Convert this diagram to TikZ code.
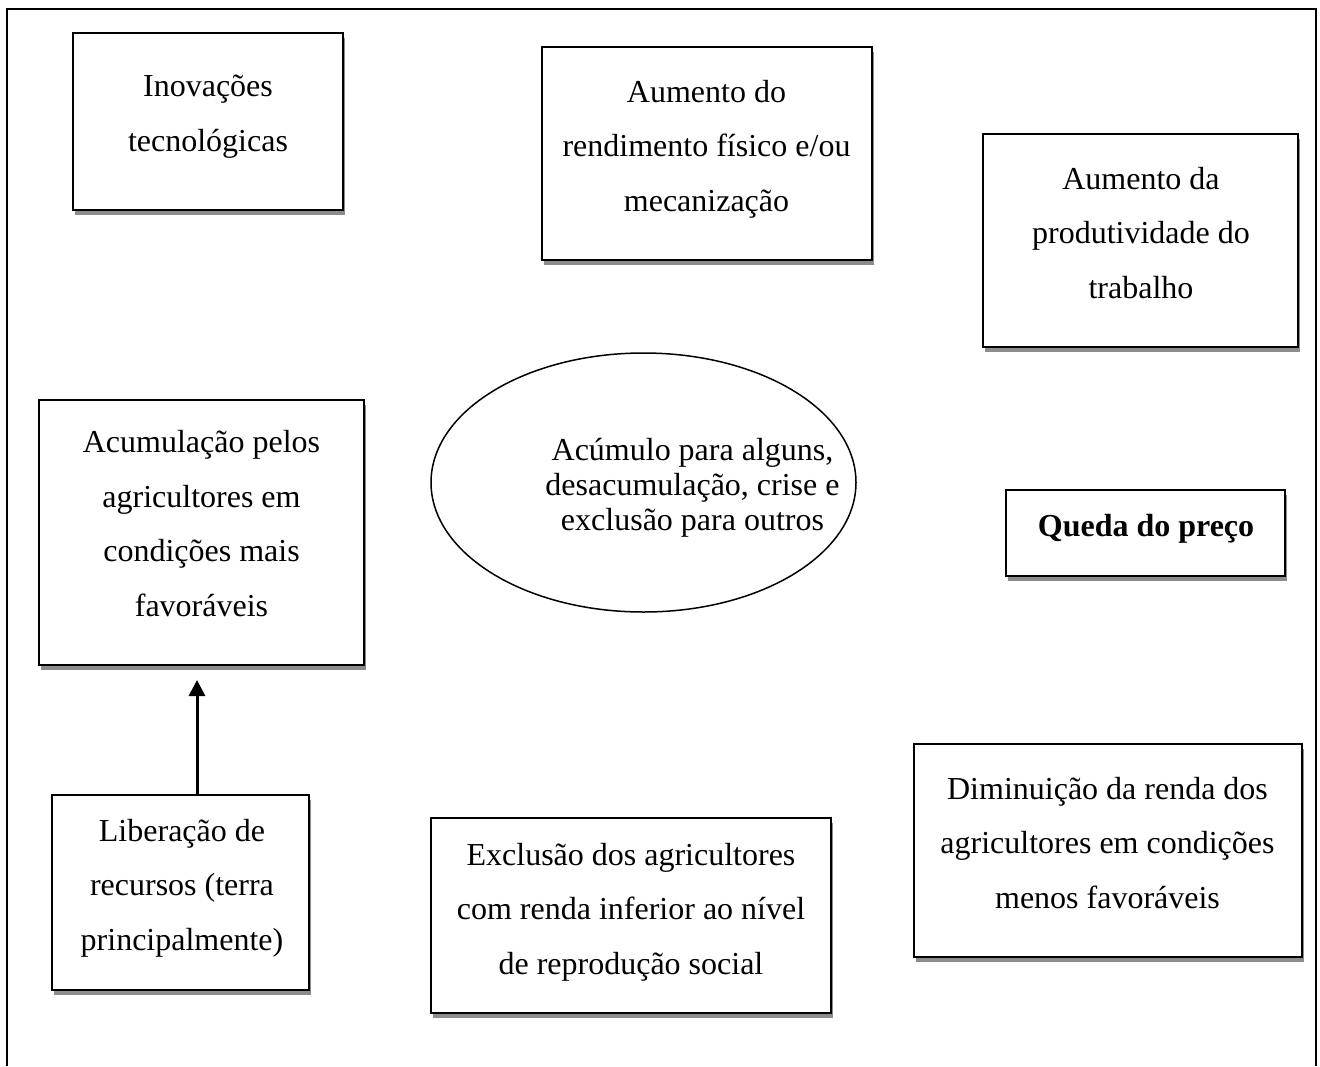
\documentclass[tikz,border=0pt]{standalone}
\usepackage{fontspec}
\setmainfont{Liberation Serif}
\usetikzlibrary{arrows.meta,shadows,shapes.geometric}
\begin{document}
\begin{tikzpicture}[x=1pt,y=-1pt,
  box/.style={draw=black,line width=1.5pt,fill=white,inner sep=0pt,outer sep=0pt,
    drop shadow={shadow xshift=1.5pt,shadow yshift=-4.5pt,fill=black!45,opacity=1}},
  oval/.style={ellipse,draw=black,line width=1.5pt,inner sep=0pt,outer sep=0pt},
  txt/.style={inner sep=0pt,align=center,font=\fontsize{32}{54.5}\selectfont},
  etxt/.style={inner sep=0pt,align=center,font=\fontsize{32}{35}\selectfont},
  frame/.style={line width=2pt,draw=black},
  arr/.style={line width=3pt,-{Triangle[width=16pt,length=16pt]}}]
\useasboundingbox (0,0) rectangle (1320,1066);
\draw[frame] (7,1066) -- (7,9) -- (1316,9) -- (1316,1066);

% boxes
\node[box,minimum width=270pt,minimum height=177pt] (inov) at (208,121.5) {};
\node[box,minimum width=330pt,minimum height=213pt] (rend) at (707,153.5) {};
\node[box,minimum width=315pt,minimum height=213pt] (prod) at (1140.5,240.5) {};
\node[box,minimum width=325pt,minimum height=265pt] (acum) at (201.5,532.5) {};
\node[oval,minimum width=425pt,minimum height=259pt] (crise) at (643.5,482.5) {};
\node[box,minimum width=279pt,minimum height=86pt] (queda) at (1145.5,533) {};
\node[box,minimum width=388pt,minimum height=213pt] (dimi) at (1108,850.5) {};
\node[box,minimum width=257pt,minimum height=195pt] (libe) at (180.5,892.5) {};
\node[box,minimum width=400pt,minimum height=195pt] (excl) at (631,915.5) {};

% texts
\node[txt] (inovt) at (208,113) {\strut Inovações\\\strut tecnológicas};
\node[txt] (rendt) at (706.5,145.6) {\strut Aumento do\\\strut rendimento físico e/ou\\\strut mecanização};
\node[txt] (prodt) at (1141,233) {\strut Aumento da\\\strut produtividade do\\\strut trabalho};
\node[txt] (acumt) at (201.5,523.6) {\strut Acumulação pelos\\\strut agricultores em\\\strut condições mais\\\strut favoráveis};
\node[etxt] (criset) at (692.5,488) {\strut Acúmulo para alguns,\\\strut desacumulação, crise e\\\strut exclusão para outros};
\node[txt] (quedat) at (1146,526) {\strut\bfseries Queda do preço};
\node[txt] (dimit) at (1107.5,842.6) {\strut Diminuição da renda dos\\\strut agricultores em condições\\\strut menos favoráveis};
\node[txt] (libet) at (182,885) {\strut Liberação de\\\strut recursos (terra\\\strut principalmente)};
\node[txt] (exclt) at (631,908.6) {\strut Exclusão dos agricultores\\\strut com renda inferior ao nível\\\strut de reprodução social};

% arrow
\coordinate (tip) at (197,680);
\draw[arr] (libe.north -| tip) -- (tip);
\end{tikzpicture}
\end{document}
